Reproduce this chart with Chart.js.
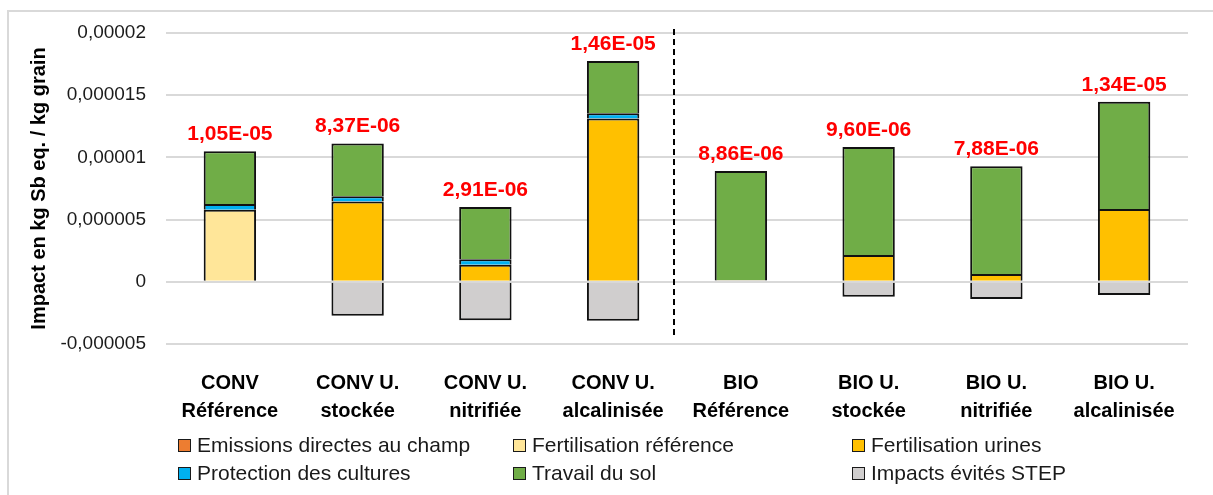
<!DOCTYPE html>
<html>
<head>
<meta charset="utf-8">
<script src="https://cdn.jsdelivr.net/npm/chart.js@4.4.1/dist/chart.umd.min.js"></script>
<style>
  body { margin: 0; background: #fff; }
  #wrap { position: relative; width: 1213px; height: 495px; overflow: hidden; }
  #frame { position: absolute; left: 7px; top: 10px; right: -5px; bottom: -5px;
           border-left: 2px solid #d9d9d9; border-top: 2px solid #d9d9d9; pointer-events: none; }
  #legend { position: absolute; left: 178px; top: 434px; display: grid;
            grid-template-columns: 335px 339px 300px; row-gap: 6px;
            font-family: "Liberation Sans", Arial, sans-serif; font-size: 21px; color: #1a1a1a; }
  .item { display: flex; align-items: center; height: 22px; white-space: nowrap; }
  .box { width: 11px; height: 11px; border: 1.5px solid #1a1a1a; margin-right: 6px; flex: none; }
</style>
</head>
<body>
<div id="wrap">
  <canvas id="chart" width="1213" height="495"></canvas>
  <div id="frame"></div>
  <div id="legend"></div>
</div>
<script>
// categories (two-line labels)
const categories = [
  ["CONV", "Référence"], ["CONV U.", "stockée"], ["CONV U.", "nitrifiée"], ["CONV U.", "alcalinisée"],
  ["BIO", "Référence"], ["BIO U.", "stockée"], ["BIO U.", "nitrifiée"], ["BIO U.", "alcalinisée"]
];

// series values (kg Sb eq. / kg grain)
const emissionsDirectes = [0, 0, 0, 0, 0, 0, 0, 0];
const fertiReference    = [5.8e-6, 0, 0, 0, 0.12e-6, 0, 0, 0];
const fertiUrines       = [0, 6.45e-6, 1.37e-6, 13.12e-6, 0, 2.15e-6, 0.63e-6, 5.85e-6];
const protection        = [0.45e-6, 0.42e-6, 0.45e-6, 0.42e-6, 0, 0, 0, 0];
const travailSol        = [4.25e-6, 4.25e-6, 4.2e-6, 4.21e-6, 8.78e-6, 8.68e-6, 8.65e-6, 8.63e-6];
const impactsEvites     = [0, -2.72e-6, -3.1e-6, -3.14e-6, 0, -1.2e-6, -1.38e-6, -1.06e-6];

// value labels printed above each bar
const totalLabels = ["1,05E-05", "8,37E-06", "2,91E-06", "1,46E-05", "8,86E-06", "9,60E-06", "7,88E-06", "1,34E-05"];

// y tick labels, bottom to top
const yTickLabels = ["-0,000005", "0", "0,000005", "0,00001", "0,000015", "0,00002"];

const seriesNames = ["Emissions directes au champ", "Fertilisation référence", "Fertilisation urines",
                     "Protection des cultures", "Travail du sol", "Impacts évités STEP"];
const seriesData = [emissionsDirectes, fertiReference, fertiUrines, protection, travailSol, impactsEvites];
const seriesColors = ["#ED7D31", "#FFE699", "#FFC000", "#00B0F0", "#70AD47", "#D0CECE"];

const FONT = "'Liberation Sans', Arial, sans-serif";

const datasets = seriesNames.map((name, i) => ({
  label: name,
  data: seriesData[i],
  backgroundColor: seriesColors[i],
  borderColor: "#111",
  borderWidth: 2,
  borderSkipped: "start",
  barPercentage: 0.41,
  categoryPercentage: 1
}));

// red totals above the positive stack
const totalsPlugin = {
  id: "totals",
  afterDatasetsDraw(chart) {
    const { ctx, scales: { x, y } } = chart;
    ctx.save();
    ctx.fillStyle = "#FF0000";
    ctx.font = "bold 21px " + FONT;
    ctx.textAlign = "center";
    ctx.textBaseline = "alphabetic";
    categories.forEach((c, i) => {
      let top = 0;
      chart.data.datasets.forEach(ds => { if (ds.data[i] > 0) top += ds.data[i]; });
      ctx.fillText(totalLabels[i], x.getPixelForValue(i), y.getPixelForValue(top) - 11);
    });
    ctx.restore();
  }
};

// dashed separator between CONV and BIO
const separatorPlugin = {
  id: "separator",
  afterDatasetsDraw(chart) {
    const { ctx, chartArea, scales: { x } } = chart;
    const px = (x.getPixelForValue(3) + x.getPixelForValue(4)) / 2 - 3;
    ctx.save();
    ctx.strokeStyle = "#000";
    ctx.lineWidth = 2;
    ctx.setLineDash([6, 4]);
    ctx.beginPath();
    ctx.moveTo(px, chartArea.top - 4);
    ctx.lineTo(px, chartArea.bottom - 6);
    ctx.stroke();
    ctx.restore();
  }
};

new Chart(document.getElementById("chart"), {
  type: "bar",
  data: { labels: categories, datasets: datasets },
  options: {
    responsive: false,
    animation: false,
    layout: { padding: { top: 33, right: 25, left: 0, bottom: 71 } },
    plugins: { legend: { display: false }, tooltip: { enabled: false } },
    scales: {
      x: {
        stacked: true,
        grid: { display: false },
        border: { display: false },
        afterFit: s => { s.height = 80; },
        ticks: {
          color: "#000",
          padding: 17,
          maxRotation: 0,
          autoSkip: false,
          font: { family: FONT, size: 20, weight: "bold", lineHeight: "28px" }
        }
      },
      y: {
        stacked: true,
        min: -0.000005,
        max: 0.00002,
        afterFit: s => { s.width = 166; },
        grid: { color: "#d9d9d9", lineWidth: 2, drawTicks: false },
        border: { display: false },
        ticks: {
          stepSize: 0.000005,
          padding: 20,
          color: "#1a1a1a",
          font: { family: FONT, size: 19 },
          callback: (v, i) => yTickLabels[i]
        },
        title: {
          display: true,
          text: "Impact en kg Sb eq. / kg grain",
          color: "#000",
          padding: { top: 27, bottom: 0 },
          font: { family: FONT, size: 20, weight: "bold" }
        }
      }
    }
  },
  plugins: [totalsPlugin, separatorPlugin]
});

// legend in three columns
const legend = document.getElementById("legend");
seriesNames.forEach((name, i) => {
  const item = document.createElement("div");
  item.className = "item";
  const box = document.createElement("span");
  box.className = "box";
  box.style.background = seriesColors[i];
  item.appendChild(box);
  item.appendChild(document.createTextNode(name));
  legend.appendChild(item);
});
</script>
</body>
</html>
